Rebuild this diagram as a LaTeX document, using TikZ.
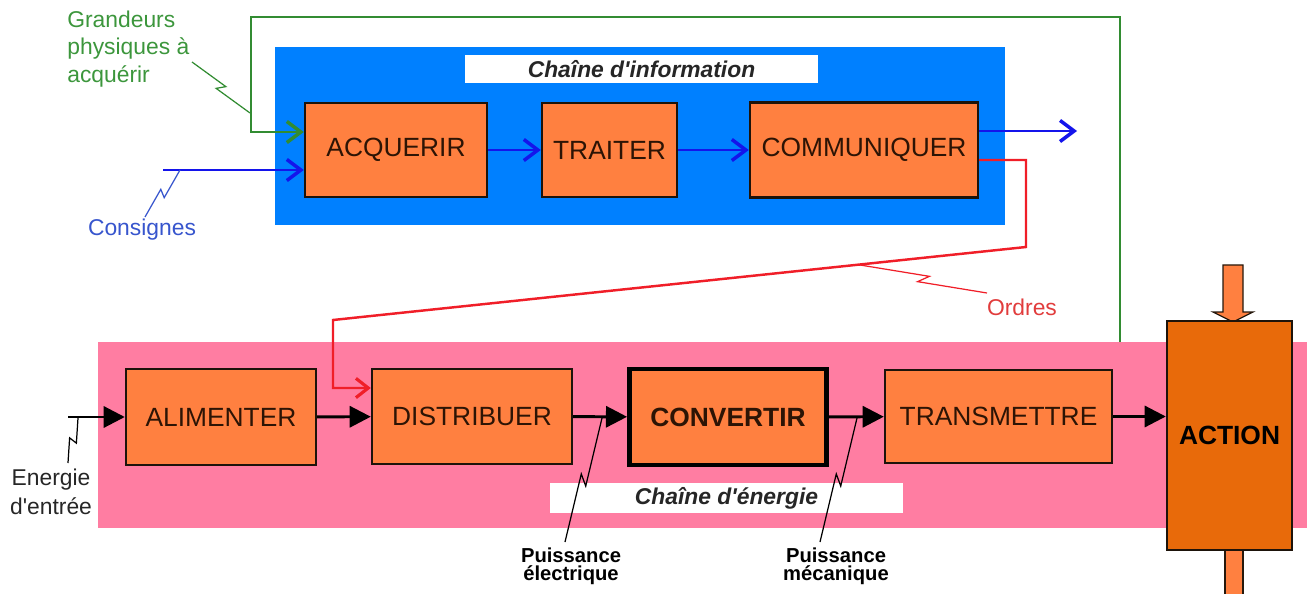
\documentclass[tikz,border=0pt]{standalone}
\usepackage{fontspec}
\setmainfont{Liberation Sans}
\usetikzlibrary{arrows.meta,calc}
\definecolor{infoblue}{RGB}{0,128,255}
\definecolor{energypink}{RGB}{255,125,162}
\definecolor{boxorange}{RGB}{255,128,64}
\definecolor{actorange}{RGB}{232,106,10}
\definecolor{boxtext}{RGB}{45,20,5}
\definecolor{linkblue}{RGB}{20,20,235}
\definecolor{lblblue}{RGB}{55,85,205}
\definecolor{lgreen}{RGB}{50,140,50}
\definecolor{lblgreen}{RGB}{60,150,60}
\definecolor{lred}{RGB}{240,30,40}
\definecolor{lblred}{RGB}{225,60,60}
\newcommand\zap[3]{\draw[#1] (#2) -- ($(#2)!0.54!(#3)!2.2pt!90:(#3)$) -- ($(#2)!0.46!(#3)!2.2pt!-90:(#3)$) -- (#3);}
\newcommand\q{\textquotesingle}
\begin{document}
\begin{tikzpicture}[x=0.02cm,y=-0.02cm,
  blk/.style={draw=black!85!brown, line width=1.4pt, fill=boxorange, inner sep=0pt,
    text=boxtext, font=\fontsize{15}{18}\selectfont},
  bar/.style={fill=white, inner sep=0pt, font=\fontsize{13}{15}\selectfont\bfseries\itshape, text=black!85},
  barrow/.style={draw=linkblue, line width=1.7pt, -{Straight Barb[length=8pt,width=12pt,line width=2pt]}},
  garrow/.style={draw=lgreen, line width=1.4pt, -{Straight Barb[length=8pt,width=12pt,line width=2pt]}},
  rarrow/.style={draw=lred, line width=1.4pt, -{Straight Barb[length=7pt,width=11pt,line width=1.8pt]}},
  karrow/.style={draw=black, line width=1.7pt, -{Triangle[length=12pt,width=12pt]}},
  lbl/.style={inner sep=0pt, font=\fontsize{13}{15.6}\selectfont},
  plbl/.style={inner sep=0pt, align=center, font=\fontsize{11.5}{10.5}\selectfont\bfseries},
  zz/.style={line width=0.7pt}
]
\useasboundingbox (0,0) rectangle (1310,594);
% backgrounds
\fill[infoblue] (275,47) rectangle (1005,225);
\fill[energypink] (98,342) rectangle (1307,528);
\node[bar, minimum width=7.06cm, minimum height=0.56cm] (tinfo) at (641.5,69) {Chaîne d\q information};
\node[bar, minimum width=7.06cm, minimum height=0.60cm] (tener) at (726.5,498) {Chaîne d\q énergie};
% information chain
\node[blk, minimum width=3.64cm, minimum height=1.88cm] (acq) at (396,150) {ACQUERIR};
\node[blk, minimum width=2.70cm, minimum height=1.88cm] (trt) at (609.5,150) {TRAITER};
\node[blk, minimum width=4.56cm, minimum height=1.90cm] (com) at (864,150) {COMMUNIQUER};
% energy chain
\node[blk, minimum width=3.80cm, minimum height=1.92cm] (ali) at (221,417) {ALIMENTER};
\node[blk, minimum width=4.00cm, minimum height=1.90cm] (dis) at (472,416.5) {DISTRIBUER};
\node[blk, line width=2.8pt, draw=black, minimum width=3.94cm, minimum height=1.92cm, font=\fontsize{15}{18}\selectfont\bfseries] (cvt) at (728,417) {CONVERTIR};
\node[blk, minimum width=4.54cm, minimum height=1.86cm] (tra) at (998.5,416.5) {TRANSMETTRE};
% action arrows
\filldraw[fill=boxorange, draw=black!80!brown, line width=0.7pt] (1223,265) -- (1243,265) -- (1243,312) -- (1253,312) -- (1233,322) -- (1213,312) -- (1223,312) -- cycle;
\filldraw[fill=boxorange, draw=black!80!brown, line width=0.7pt] (1225,600) -- (1225,550) -- (1243,550) -- (1243,600);
\node[blk, fill=actorange, minimum width=2.50cm, minimum height=4.58cm, font=\fontsize{15}{18}\selectfont\bfseries, text=black] (act) at (1229.5,435.5) {ACTION};
% coordinates
\coordinate (g1) at (0,132);
\coordinate (gs) at (1120,342);
\coordinate (cs) at (163,170);
\coordinate (bout) at (1077,131);
\coordinate (r1) at (0,160);
\coordinate (r2) at (0,388);
\coordinate (ein) at (68,417);
% information links
\draw[garrow] (gs) -- (1120,17) -- (251,17) -- (251,132) -- (acq.west |- g1);
\draw[barrow] (cs) -- (acq.west |- cs);
\draw[barrow] (acq) -- (trt);
\draw[barrow] (trt) -- (com);
\draw[barrow] (com.east |- bout) -- (bout);
\draw[rarrow] (com.east |- r1) -- (1026,160) -- (1026,247) -- (333,320) -- (333,388) -- (dis.west |- r2);
% energy links
\draw[karrow] (ein) -- (ali);
\draw[karrow] (ali) -- (dis);
\draw[karrow] (dis) -- (cvt);
\draw[karrow] (cvt) -- (tra);
\draw[karrow] (tra.east) -- (act.west |- tra.east);
% labels
\node[lbl, anchor=west, align=left, text=lblgreen] (lgr) at (67,49) {Grandeurs\\physiques à\\acquérir};
\node[lbl, text=lblblue] (lcons) at (142,230) {Consignes};
\node[lbl, text=lblred] (lord) at (1022,307) {Ordres};
\node[lbl, align=center, text=black!85, font=\fontsize{13}{16.4}\selectfont] (lein) at (51,492) {Energie\\d\q entrée};
\node[plbl] (lpe) at (571,566) {Puissance\\électrique};
\node[plbl] (lpm) at (836,566) {Puissance\\mécanique};
% lightning marks
\coordinate (zga) at (192,62); \coordinate (zgb) at (250,113);
\coordinate (zca) at (180,170); \coordinate (zcb) at (145,217);
\coordinate (zea) at (78,418); \coordinate (zeb) at (68,463);
\coordinate (zpa) at (602,418); \coordinate (zpb) at (565,542);
\coordinate (zma) at (857,418); \coordinate (zmb) at (820,542);
\coordinate (zoa) at (860,265); \coordinate (zob) at (987,293);
\zap{zz,lgreen}{zga}{zgb}
\zap{zz,lblblue}{zca}{zcb}
\zap{zz,black}{zea}{zeb}
\zap{zz,black}{zpa}{zpb}
\zap{zz,black}{zma}{zmb}
\zap{zz,lred}{zoa}{zob}
\end{tikzpicture}
\end{document}
